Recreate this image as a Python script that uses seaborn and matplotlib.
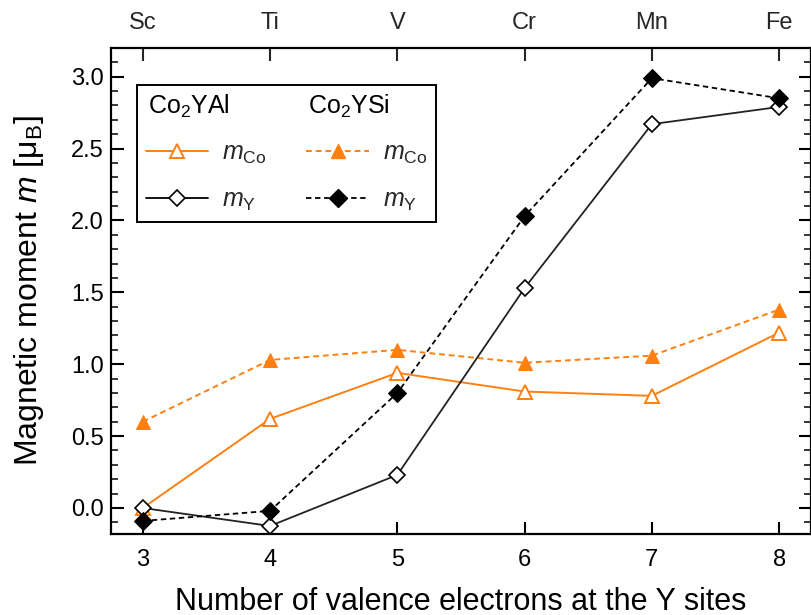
import matplotlib
matplotlib.use("Agg")
import matplotlib.pyplot as plt
from matplotlib.ticker import MultipleLocator, FormatStrFormatter
from matplotlib.lines import Line2D
import seaborn as sns
import pandas as pd

# ---- data ----
electrons = [3, 4, 5, 6, 7, 8]
elements = ["Sc", "Ti", "V", "Cr", "Mn", "Fe"]
al_mco = [0.00, 0.62, 0.94, 0.81, 0.78, 1.22]
al_my = [0.00, -0.125, 0.23, 1.53, 2.67, 2.79]
si_mco = [0.60, 1.03, 1.10, 1.01, 1.06, 1.38]
si_my = [-0.09, -0.02, 0.80, 2.03, 2.99, 2.85]

sns.set_theme(style="ticks")
plt.rcParams["font.family"] = ["Liberation Sans", "DejaVu Sans"]
plt.rcParams["mathtext.fontset"] = "custom"
plt.rcParams["mathtext.rm"] = "Liberation Sans"
plt.rcParams["mathtext.it"] = "Liberation Sans:italic"

ORANGE = "#FF8010"
TICK_FS = 17
fig = plt.figure(figsize=(8.12, 6.15), dpi=100)
ax = fig.add_axes([0.1367, 0.1317, 0.862, 0.7903])

df = pd.DataFrame({"n": electrons, "al_mco": al_mco, "al_my": al_my,
                   "si_mco": si_mco, "si_my": si_my})

dash = (0, (3, 2))
sns.lineplot(data=df, x="n", y="al_mco", ax=ax, color=ORANGE, lw=1.4,
             marker="^", markersize=10, markerfacecolor="white",
             markeredgecolor=ORANGE, markeredgewidth=1.4, zorder=3)
sns.lineplot(data=df, x="n", y="si_mco", ax=ax, color=ORANGE, lw=1.4,
             linestyle=dash, marker="^", markersize=10,
             markerfacecolor=ORANGE, markeredgecolor=ORANGE, zorder=3)
sns.lineplot(data=df, x="n", y="al_my", ax=ax, color="#222222", lw=1.3,
             marker="D", markersize=8.5, markerfacecolor="white",
             markeredgecolor="black", markeredgewidth=1.2, zorder=4)
sns.lineplot(data=df, x="n", y="si_my", ax=ax, color="black", lw=1.3,
             linestyle=dash, marker="D", markersize=9,
             markerfacecolor="black", markeredgecolor="black", zorder=4)

ax.set_xlim(2.75, 8.25)
ax.set_ylim(-0.181, 3.20)
ax.set_xticks(electrons)
ax.set_xticklabels([str(v) for v in electrons], fontsize=TICK_FS)
ax.yaxis.set_major_locator(MultipleLocator(0.5))
ax.yaxis.set_minor_locator(MultipleLocator(0.1))
ax.yaxis.set_major_formatter(FormatStrFormatter("%.1f"))
for lab in ax.get_yticklabels():
    lab.set_fontsize(TICK_FS)
ax.tick_params(axis="both", which="major", direction="in", length=9,
               width=1.5, labelsize=TICK_FS, color="black", labelcolor="black")
ax.tick_params(axis="y", which="both", right=True, left=True)
ax.tick_params(axis="y", which="minor", direction="in", length=5, width=1.3)
ax.tick_params(axis="x", which="major", pad=11)
ax.tick_params(axis="y", which="major", pad=5)
for s in ax.spines.values():
    s.set_linewidth(1.6)
    s.set_color("black")

top = ax.secondary_xaxis("top")
top.set_xticks(electrons)
top.set_xticklabels(elements, fontsize=TICK_FS)
top.tick_params(direction="in", length=9, width=1.5, pad=10)

ax.set_xlabel("Number of valence electrons at the Y sites", fontsize=22,
              labelpad=11, color="black")
ax.set_ylabel(r"Magnetic moment $\mathit{m}$ [$\mathrm{\mu_B}$]", fontsize=23,
              labelpad=18, color="black")

blank = Line2D([], [], linestyle="none")
h_al_co = Line2D([], [], color=ORANGE, lw=1.4, marker="^", markersize=10,
                 markerfacecolor="white", markeredgecolor=ORANGE, markeredgewidth=1.4)
h_al_y = Line2D([], [], color="black", lw=1.3, marker="D", markersize=8.5,
                markerfacecolor="white", markeredgecolor="black", markeredgewidth=1.2)
h_si_co = Line2D([], [], color=ORANGE, lw=1.4, linestyle=dash, marker="^",
                 markersize=10, markerfacecolor=ORANGE, markeredgecolor=ORANGE)
h_si_y = Line2D([], [], color="black", lw=1.3, linestyle=dash, marker="D",
                markersize=9, markerfacecolor="black", markeredgecolor="black")
m_co = r"$\mathit{m}_{\mathrm{Co}}$"
m_y = r"$\mathit{m}_{\mathrm{Y}}$"
handles = [blank, h_al_co, h_al_y, blank, h_si_co, h_si_y]
labels = [m_co, m_co, m_y, m_co, m_co, m_y]
headers = [r"Co$_2$YAl", r"Co$_2$YSi"]
LEG_FS = 18
HL, HTP = 2.5, 0.55
leg = ax.legend(handles, labels, ncol=2, loc="upper left",
                bbox_to_anchor=(0.037, 0.924), borderaxespad=0,
                fontsize=LEG_FS, frameon=True,
                fancybox=False, edgecolor="black", handlelength=HL,
                handletextpad=HTP, columnspacing=1.6, labelspacing=0.87,
                borderpad=0.35)
leg.get_frame().set_linewidth(1.4)
leg.get_frame().set_alpha(1)
texts = leg.get_texts()
texts[0].set_alpha(0)
texts[3].set_alpha(0)

fig.canvas.draw()
renderer = fig.canvas.get_renderer()
shift = (HL + HTP) * LEG_FS * fig.dpi / 72.0
inv = fig.transFigure.inverted()
for col, idx in enumerate((0, 3)):
    row_ext = texts[idx].get_window_extent(renderer)
    x_disp = row_ext.x0 - shift + 2
    y_disp = (row_ext.y0 + row_ext.y1) / 2.0
    fx, fy = inv.transform((x_disp, y_disp))
    fig.text(fx, fy, headers[col], fontsize=LEG_FS, ha="left", va="center",
             color="black", zorder=10)

fig.savefig("out.png", dpi=100)
